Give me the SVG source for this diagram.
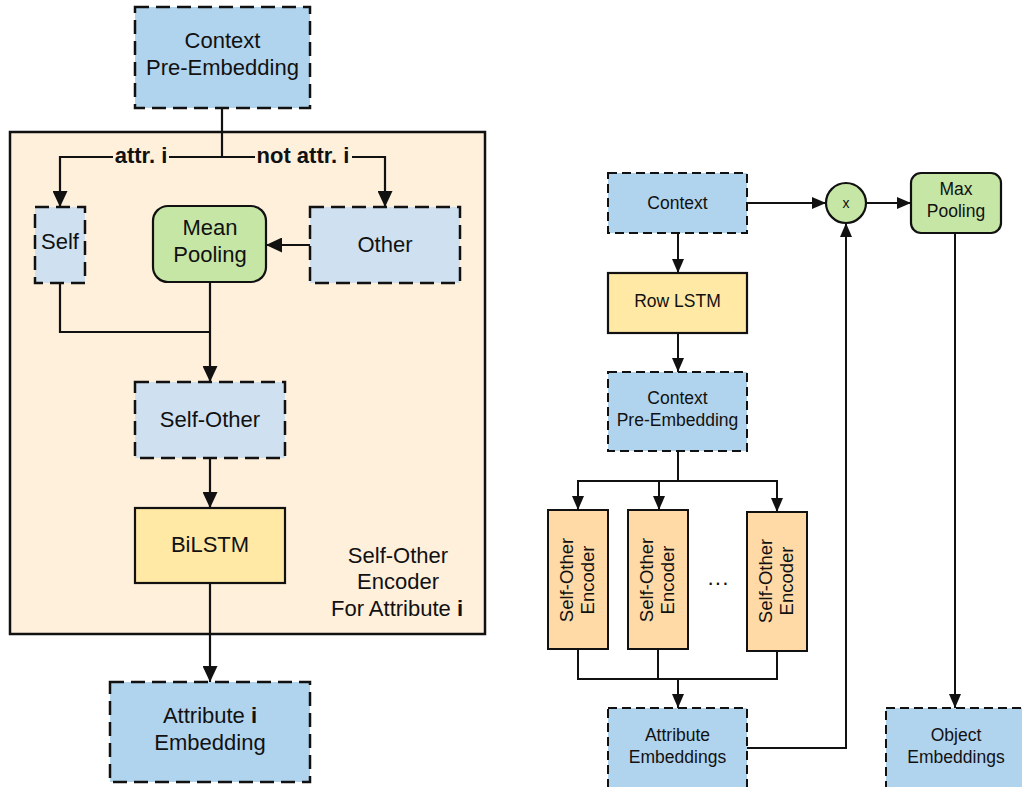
<svg xmlns="http://www.w3.org/2000/svg" width="1022" height="787" viewBox="0 0 1022 787">
<defs>
<style>
text{font-family:"Liberation Sans",Arial,sans-serif;fill:#111;text-anchor:middle}
.L{font-size:22px}
.R{font-size:17.5px}
.E{font-size:18.5px}
.b{font-weight:bold}
.blue{fill:#b1d4ee;stroke:#111;stroke-width:2.5;stroke-dasharray:14 7}
.lblue{fill:#cfe1f1;stroke:#111;stroke-width:2.5;stroke-dasharray:14 7}
.blue2{fill:#b1d4ee;stroke:#111;stroke-width:2;stroke-dasharray:9 5}
.green{fill:#c6e6a6;stroke:#111;stroke-width:2.2}
.yellow{fill:#ffe9a5;stroke:#111;stroke-width:2.2}
.orange{fill:#ffd9a6;stroke:#111;stroke-width:2}
.ln{fill:none;stroke:#111;stroke-width:2.2}
.ln2{fill:none;stroke:#111;stroke-width:2}
</style>
<marker id="aL" markerUnits="userSpaceOnUse" markerWidth="16" markerHeight="15" refX="16" refY="7.5" orient="auto"><path d="M0,0 L16,7.5 L0,15 z" fill="#111"/></marker>
<marker id="aR" markerUnits="userSpaceOnUse" markerWidth="14" markerHeight="12" refX="14" refY="6" orient="auto"><path d="M0,0 L14,6 L0,12 z" fill="#111"/></marker>
</defs>

<g id="container">
<rect x="10" y="132" width="475" height="502" fill="#fff0dc" stroke="#111" stroke-width="2.5"/>
</g>

<g id="connectors">
<path class="ln" d="M222,108 V157"/>
<path class="ln" d="M222,157 H60 V207" marker-end="url(#aL)"/>
<path class="ln" d="M222,157 H385 V207" marker-end="url(#aL)"/>
<path class="ln" d="M310,245 H266" marker-end="url(#aL)"/>
<path class="ln" d="M60,283 V332 H210"/>
<path class="ln" d="M210,282 V382" marker-end="url(#aL)"/>
<path class="ln" d="M210,458 V508" marker-end="url(#aL)"/>
<path class="ln" d="M210,583 V682" marker-end="url(#aL)"/>
<rect x="113" y="146" width="56" height="22" fill="#fff0dc"/>
<rect x="255" y="146" width="97" height="22" fill="#fff0dc"/>
<text class="L b" x="141" y="163">attr. i</text>
<text class="L b" x="303" y="163">not attr. i</text>

<path class="ln2" d="M747,203 H826" marker-end="url(#aR)"/>
<path class="ln2" d="M866,203 H911" marker-end="url(#aR)"/>
<path class="ln2" d="M955,233 V708" marker-end="url(#aR)"/>
<path class="ln2" d="M678,233 V273" marker-end="url(#aR)"/>
<path class="ln2" d="M678,333 V372" marker-end="url(#aR)"/>
<path class="ln2" d="M678,451 V481"/>
<path class="ln2" d="M678,481 H578 V510" marker-end="url(#aR)"/>
<path class="ln2" d="M659,481 V510" marker-end="url(#aR)"/>
<path class="ln2" d="M678,481 H777 V512" marker-end="url(#aR)"/>
<path class="ln2" d="M578,649 V679 H777 V651"/>
<path class="ln2" d="M658,649 V679"/>
<path class="ln2" d="M678,679 V708" marker-end="url(#aR)"/>
<path class="ln2" d="M747,748 H846 V223" marker-end="url(#aR)"/>
</g>

<g id="ctx-pre-left">
<rect class="blue" x="135" y="7" width="175" height="101"/>
<text class="L" x="222.5" y="48">Context</text>
<text class="L" x="222.5" y="75">Pre-Embedding</text>
</g>

<g id="self">
<rect class="lblue" x="35" y="207" width="50" height="76"/>
<text class="L" x="60" y="249">Self</text>
</g>

<g id="mean-pooling">
<rect class="green" x="153" y="206" width="113" height="76" rx="15"/>
<text class="L" x="210" y="235">Mean</text>
<text class="L" x="210" y="262">Pooling</text>
</g>

<g id="other">
<rect class="lblue" x="310" y="207" width="150" height="76"/>
<text class="L" x="385" y="252">Other</text>
</g>

<g id="self-other">
<rect class="lblue" x="135" y="382" width="150" height="76"/>
<text class="L" x="210" y="427">Self-Other</text>
</g>

<g id="bilstm">
<rect class="yellow" x="135" y="508" width="150" height="75"/>
<text class="L" x="210" y="552">BiLSTM</text>
</g>

<g id="encoder-label">
<text class="L" x="398" y="563">Self-Other</text>
<text class="L" x="398" y="589">Encoder</text>
<text class="L" x="397" y="616">For Attribute <tspan class="b">i</tspan></text>
</g>

<g id="attr-i-emb">
<rect class="blue" x="110" y="682" width="200" height="100"/>
<text class="L" x="210" y="723">Attribute <tspan class="b">i</tspan></text>
<text class="L" x="210" y="750">Embedding</text>
</g>

<g id="context">
<rect class="blue2" x="608" y="173" width="139" height="60"/>
<text class="R" x="677.5" y="209">Context</text>
</g>

<g id="mult">
<circle class="green" cx="846" cy="203" r="20" stroke-width="2"/>
<text x="846" y="208" style="font-size:14px">x</text>
</g>

<g id="max-pooling">
<rect class="green" x="911" y="173" width="90" height="60" rx="10" stroke-width="2"/>
<text class="R" x="956" y="195">Max</text>
<text class="R" x="956" y="217">Pooling</text>
</g>

<g id="row-lstm">
<rect class="yellow" x="608" y="273" width="139" height="60" stroke-width="2"/>
<text class="R" x="677.5" y="307">Row LSTM</text>
</g>

<g id="ctx-pre-right">
<rect class="blue2" x="608" y="372" width="139" height="79"/>
<text class="R" x="677.5" y="404">Context</text>
<text class="R" x="677.5" y="426">Pre-Embedding</text>
</g>

<g id="enc1">
<rect class="orange" x="548" y="510" width="60" height="139"/>
<text class="E" transform="translate(573,580) rotate(-90)">Self-Other</text>
<text class="E" transform="translate(594,580) rotate(-90)">Encoder</text>
</g>
<g id="enc2">
<rect class="orange" x="628" y="510" width="60" height="139"/>
<text class="E" transform="translate(653,580) rotate(-90)">Self-Other</text>
<text class="E" transform="translate(674,580) rotate(-90)">Encoder</text>
</g>
<g id="dots">
<text x="718" y="590" style="font-size:22px">···</text>
</g>
<g id="enc3">
<rect class="orange" x="747" y="512" width="60" height="139"/>
<text class="E" transform="translate(772,581) rotate(-90)">Self-Other</text>
<text class="E" transform="translate(793,581) rotate(-90)">Encoder</text>
</g>

<g id="attr-emb">
<rect class="blue2" x="608" y="708" width="139" height="90"/>
<text class="R" x="677.5" y="741">Attribute</text>
<text class="R" x="677.5" y="763">Embeddings</text>
</g>

<g id="obj-emb">
<rect class="blue2" x="886" y="708" width="140" height="90"/>
<text class="R" x="956" y="741">Object</text>
<text class="R" x="956" y="763">Embeddings</text>
</g>
</svg>
